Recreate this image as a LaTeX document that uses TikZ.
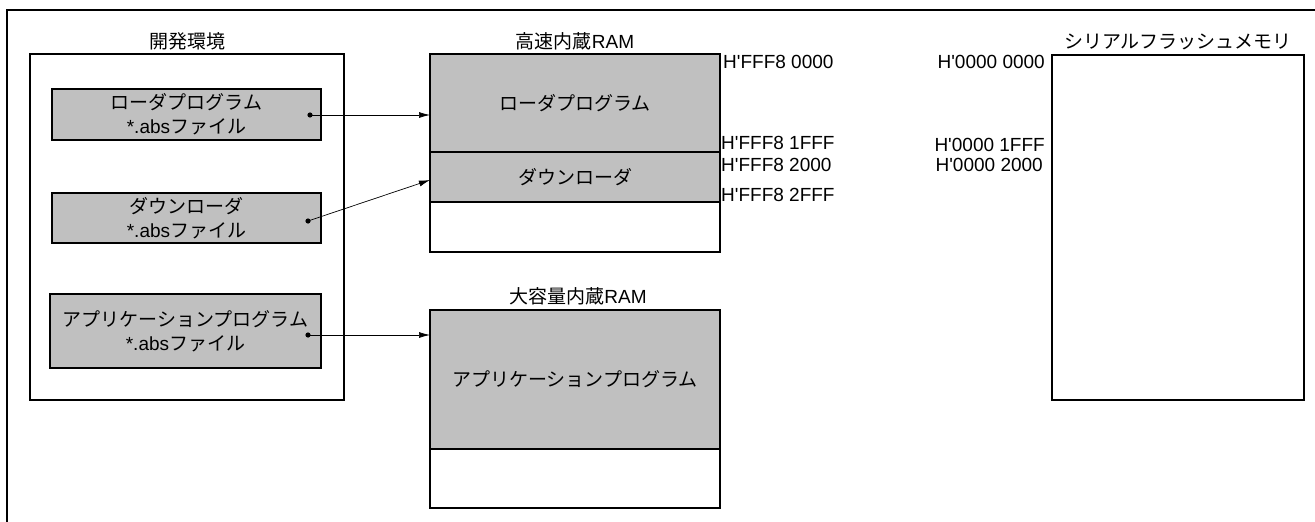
\documentclass[tikz,border=0pt]{standalone}
\usepackage{fontspec}
\setmainfont{Liberation Sans}
\newfontfamily\jp{Noto Sans CJK JP}
\usetikzlibrary{positioning,arrows.meta}
\definecolor{fillgray}{HTML}{C0C0C0}
\newcommand\haddr[1]{H\textquotesingle#1}

\begin{document}
\begin{tikzpicture}[x=1pt,y=-1pt,
    txt/.style={font=\fontsize{19}{24}\selectfont, inner sep=0pt},
    box/.style={draw, line width=1.2pt, outer sep=0pt, align=center, txt},
    filebox/.style={box, fill=fillgray, minimum width=269pt},
    region/.style={box, minimum width=290pt},
    conn/.style={-{Latex[length=11pt,width=6pt]}, line width=0.7pt}]
    \useasboundingbox (0,0) rectangle (1315,522);
    \draw [line width=2pt] (7,522) -- (7,10) -- (1315,10);
    % development environment
    \node [box, minimum width=314pt, minimum height=346pt] (devenv) at (187,227) {};
    \node [txt] (devttl) at ([yshift=13pt]devenv.north) {\jp 開発環境};
    \node [filebox, minimum height=51pt] (ldrsrc) at (186.5,114.5) {{\jp ローダプログラム}\\*.abs{\jp ファイル}};
    \node [filebox, minimum height=50pt] (dldsrc) at (186.5,218) {{\jp ダウンローダ}\\*.abs{\jp ファイル}};
    \node [filebox, minimum width=271pt, minimum height=74pt] (appsrc) at (185.5,331) {{\jp アプリケーションプログラム}\\*.abs{\jp ファイル}};
    \coordinate (ldrdot) at (310,115);
    \coordinate (dlddot) at (308,221);
    \coordinate (appdot) at (308,335);
    % high speed RAM
    \node [region, fill=fillgray, minimum height=98pt] (ramldr) at (575,103) {\jp ローダプログラム};
    \node [region, fill=fillgray, minimum height=50pt, below=0pt of ramldr] (ramdld) {\jp ダウンローダ};
    \node [region, minimum height=50pt, below=0pt of ramdld] (ramfree) {};
    \node [txt] (ramttl) at ([yshift=13pt]ramldr.north) {{\jp 高速内蔵}RAM};
    \node [txt, anchor=west] (a0) at (723,62) {\haddr{FFF8 0000}};
    \node [txt, anchor=west] (a1) at (721,143) {\haddr{FFF8 1FFF}};
    \node [txt, anchor=west] (a2) at (721,165) {\haddr{FFF8 2000}};
    \node [txt, anchor=west] (a3) at (721,195) {\haddr{FFF8 2FFF}};
    % large RAM
    \node [region, fill=fillgray, minimum height=139pt] (ramapp) at (575,379.5) {\jp アプリケーションプログラム};
    \node [region, minimum height=59pt, below=0pt of ramapp] (ramrest) {};
    \node [txt] (bigttl) at ([xshift=3pt,yshift=14pt]ramapp.north) {{\jp 大容量内蔵}RAM};
    % serial flash
    \node [box, minimum width=252pt, minimum height=345pt] (flash) at (1178,227.5) {};
    \node [txt] (flashttl) at ([yshift=13pt]flash.north) {\jp シリアルフラッシュメモリ};
    \node [txt, anchor=east] (f0) at (1045,62) {\haddr{0000 0000}};
    \node [txt, anchor=east] (f1) at (1045,145) {\haddr{0000 1FFF}};
    \node [txt, anchor=east] (f2) at (1043,165) {\haddr{0000 2000}};
    % transfers
    \foreach \d in {ldrdot,dlddot,appdot} \fill (\d) circle (2.6pt);
    \draw [conn] (ldrdot) -- (ldrdot -| ramldr.west);
    \draw [conn] (dlddot) -- ([yshift=-3pt]ramdld.west);
    \draw [conn] (appdot) -- (appdot -| ramapp.west);
\end{tikzpicture}
\end{document}
